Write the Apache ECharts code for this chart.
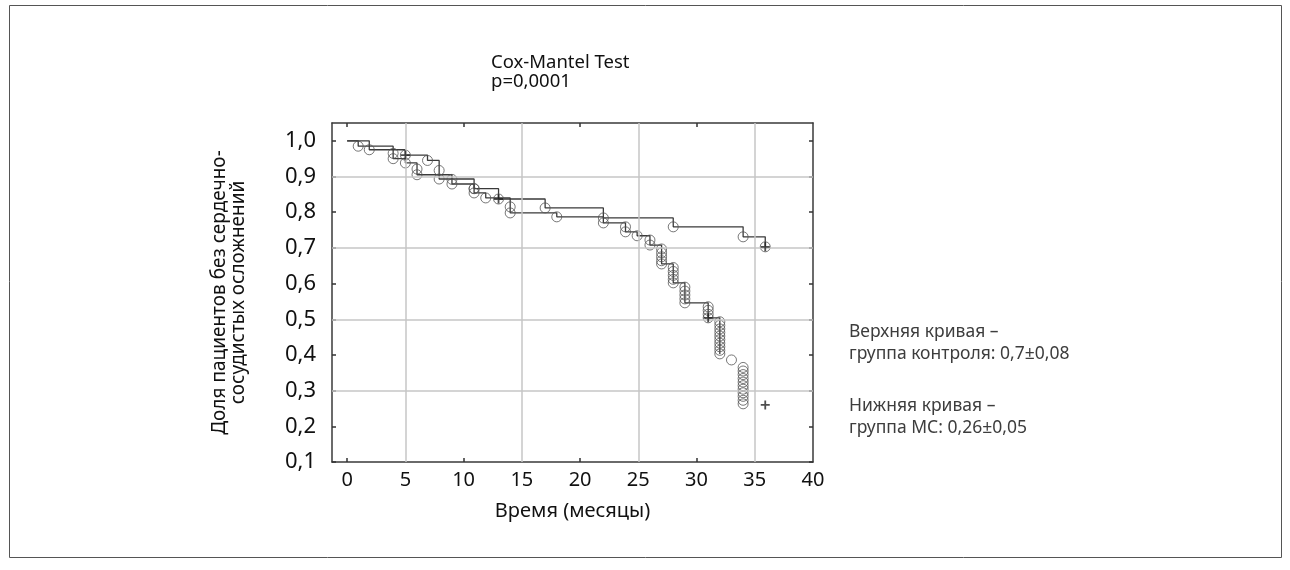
<!DOCTYPE html>
<html>
<head>
<meta charset="utf-8">
<script src="https://cdn.jsdelivr.net/npm/echarts@6/dist/echarts.min.js"></script>
<style>
html,body{margin:0;padding:0;background:#fff;}
#main{width:1290px;height:570px;}
</style>
</head>
<body>
<div id="main"></div>
<script>
// оси
var xLabelValues=[0,5,10,15,20,25,30,35,40];
var xTickValues=[0,10,20,30];
var xGridValues=[5,15,25,35];
var yLabelValues=[0.1,0.2,0.3,0.4,0.5,0.6,0.7,0.8,0.9,1.0];
var yGridValues=[0.3,0.5,0.7,0.9];

// верхняя кривая - группа контроля
var upperTime=[0,1.9,5.0,6.9,7.9,7.9,10.9,13,17,22,28,34,35.9];
var upperSurv=[1.0,0.975,0.96,0.945,0.917,0.893,0.866,0.837,0.812,0.784,0.759,0.731,0.703];
var upperCensTime=[5.0,13,35.9];
var upperCensSurv=[0.96,0.837,0.703];

// нижняя кривая - группа МС
var lowerTime=[0,0.95,3.95,3.95,5.0,6.0,6.0,9.0,9.0,10.9,10.9,11.9,14,14,18,22,23.9,23.9,24.9,26,26,
  27,27,27,27,27,28,28,28,28,28,29,29,29,29,29,31,31,31,31,
  32,32,32,32,32,32,32,32,32,32,33,
  34,34,34,34,34,34,34,34,34,34,34];
var lowerSurv=[1.0,0.985,0.965,0.95,0.938,0.921,0.905,0.892,0.879,0.866,0.854,0.84,0.815,0.798,0.787,0.77,0.759,0.745,0.734,0.722,0.708,
  0.697,0.686,0.675,0.664,0.655,0.645,0.634,0.623,0.612,0.602,0.59,0.579,0.568,0.557,0.546,0.535,0.525,0.514,0.504,
  0.493,0.483,0.473,0.463,0.453,0.443,0.433,0.423,0.413,0.403,0.386,
  0.365,0.355,0.345,0.334,0.324,0.314,0.304,0.294,0.284,0.273,0.263];
var lowerLineEnd=32;
var lowerCensTime=[31,35.9];
var lowerCensSurv=[0.504,0.26];

function zip(a,b){
  var out=[];
  for(var i=0;i<a.length;i++){ out.push([a[i],b[i]]); }
  return out;
}

var upperPts=zip(upperTime,upperSurv);
var lowerPts=zip(lowerTime,lowerSurv);
var lowerLinePts=lowerPts.filter(function(p){ return p[0]<=lowerLineEnd; });

var FONT='"Noto Sans", "Open Sans", sans-serif';
var plusPath='path://M4,0h2v10h-2zM0,4h10v2h-10z';

var gridLines=[];
for(var i=0;i<yGridValues.length;i++){ gridLines.push({yAxis:yGridValues[i]}); }
for(var j=0;j<xGridValues.length;j++){ gridLines.push({xAxis:xGridValues[j]}); }

var myChart=echarts.init(document.getElementById('main'),null,{renderer:'canvas'});

var frameLine={show:true,onZero:false,lineStyle:{color:'#3a3a3a',width:1.5}};
var circleStyle={color:'rgba(0,0,0,0)',borderColor:'#555',borderWidth:1};

option={
  backgroundColor:'#fff',
  animation:false,
  grid:{left:332,right:477,top:123,bottom:108},
  xAxis:[{
    type:'value',position:'bottom',min:-1.3,max:40,
    axisLine:frameLine,
    axisTick:{show:true,inside:true,length:4,customValues:xTickValues,lineStyle:{color:'#333',width:1.5}},
    axisLabel:{customValues:xLabelValues,fontSize:20,color:'#111',margin:8,fontFamily:FONT},
    splitLine:{show:false},
    name:'Время (месяцы)',nameLocation:'middle',nameGap:39,
    nameTextStyle:{fontSize:20,color:'#111',fontFamily:FONT}
  },{
    type:'value',position:'top',min:-1.3,max:40,
    axisLine:frameLine,
    axisTick:{show:true,inside:true,length:4,customValues:xTickValues,lineStyle:{color:'#333',width:1.5}},
    axisLabel:{show:false},
    splitLine:{show:false}
  }],
  yAxis:[{
    type:'value',position:'left',min:0.1,max:1.05,
    axisLine:frameLine,
    axisTick:{show:true,inside:true,length:4,customValues:yLabelValues,lineStyle:{color:'#333',width:1.5}},
    axisLabel:{customValues:yLabelValues,fontSize:22,color:'#111',margin:16,fontFamily:FONT,
      formatter:function(v){ return v.toFixed(1).replace('.',','); }},
    splitLine:{show:false},
    name:'Доля пациентов без сердечно-\nсосудистых осложнений',nameLocation:'middle',nameGap:84,
    nameTextStyle:{fontSize:19,color:'#111',fontFamily:FONT,lineHeight:19}
  },{
    type:'value',position:'right',min:0.1,max:1.05,
    axisLine:frameLine,
    axisTick:{show:true,inside:true,length:4,customValues:yLabelValues,lineStyle:{color:'#333',width:1.5}},
    axisLabel:{show:false},
    splitLine:{show:false}
  }],
  series:[{
    name:'grid',type:'line',data:[],z:1,silent:true,
    markLine:{silent:true,symbol:['none','none'],label:{show:false},
      lineStyle:{color:'#c6c6c6',width:1.5,type:'solid'},data:gridLines}
  },{
    name:'upper',type:'line',step:'end',data:upperPts,showSymbol:false,symbol:'none',z:3,
    lineStyle:{color:'#3a3a3a',width:1.3}
  },{
    name:'lower',type:'line',step:'end',data:lowerLinePts,showSymbol:false,symbol:'none',z:3,
    lineStyle:{color:'#3a3a3a',width:1.3}
  },{
    name:'upperEvents',type:'scatter',data:upperPts.slice(1),symbol:'circle',symbolSize:10,z:4,
    itemStyle:circleStyle
  },{
    name:'lowerEvents',type:'scatter',data:lowerPts.slice(1),symbol:'circle',symbolSize:10,z:4,
    itemStyle:circleStyle
  },{
    name:'censored',type:'scatter',data:zip(upperCensTime,upperCensSurv).concat(zip(lowerCensTime,lowerCensSurv)),
    symbol:plusPath,symbolSize:9,z:5,itemStyle:{color:'#222'}
  }],
  graphic:[{
    type:'rect',silent:true,
    shape:{x:9.5,y:5.5,width:1272,height:552},
    style:{fill:'none',stroke:'#555',lineWidth:1}
  },{
    type:'text',silent:true,x:491,y:53,
    style:{text:'Cox-Mantel Test\np=0,0001',fill:'#111',fontSize:18.5,fontFamily:FONT,lineHeight:19}
  },{
    type:'text',silent:true,x:849,y:321,
    style:{text:'Верхняя кривая –\nгруппа контроля: 0,7±0,08',fill:'#3d3d3d',fontSize:17.5,fontFamily:FONT,lineHeight:22}
  },{
    type:'text',silent:true,x:849,y:395,
    style:{text:'Нижняя кривая –\nгруппа МС: 0,26±0,05',fill:'#3d3d3d',fontSize:17.5,fontFamily:FONT,lineHeight:22}
  }]
};
myChart.setOption(option);
</script>
</body>
</html>
